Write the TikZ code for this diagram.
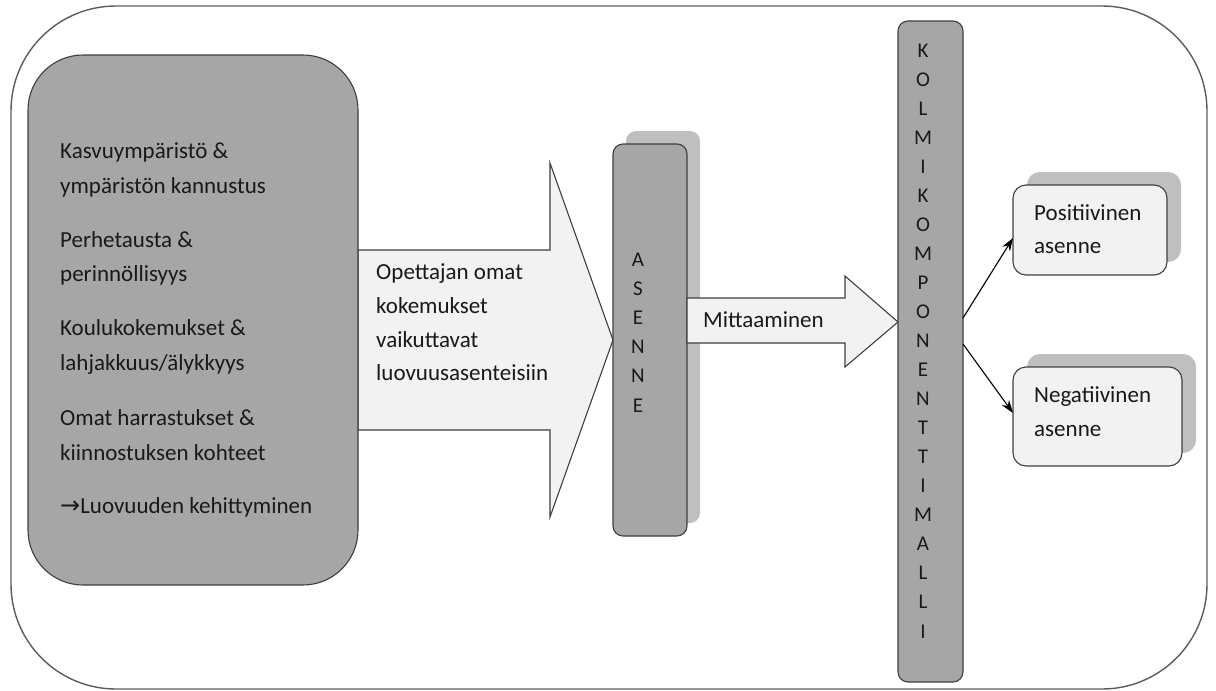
\documentclass[tikz,border=0pt]{standalone}
\usepackage{fontspec}
\setmainfont{Carlito}
\newfontfamily\arrowfont{DejaVu Sans}
\usetikzlibrary{arrows.meta}
\definecolor{boxgray}{HTML}{A6A6A6}
\definecolor{shadowgray}{HTML}{BFBFBF}
\definecolor{lightfill}{HTML}{F2F2F2}
\definecolor{edge}{HTML}{3F3F3F}
\tikzset{
  frame/.style={draw=edge!85, line width=1.4, rounded corners=105},
  greybox/.style={draw=edge, fill=boxgray, line width=1.1, inner sep=0},
  lightbox/.style={draw=edge, fill=lightfill, line width=1.1, inner sep=0, rounded corners=13},
  shadowbox/.style={fill=shadowgray, inner sep=0},
  fatarrow/.style={draw=edge, fill=lightfill, line width=1.1, line join=miter},
  txt/.style={anchor=base west, inner sep=0, font=\fontsize{23}{23}\selectfont, text=black!90},
  letter/.style={anchor=base, inner sep=0, font=\fontsize{21}{21}\selectfont, text=black!90},
  link/.style={draw=black, line width=1.1, -{Stealth[length=13,width=9]}}
}
\begin{document}
\begin{tikzpicture}[x=1pt,y=-1pt]
\useasboundingbox (0,0) rectangle (1216,691);

% outer frame
\draw[frame] (11,6) rectangle (1207,689);

% wide arrow from the background box to ASENNE
\draw[fatarrow] (358,250) -- (550,250) -- (550,163) -- (613,340) -- (550,517) -- (550,430) -- (358,430) -- cycle;

% background factors
\node[greybox, rounded corners=55, minimum width=330, minimum height=530] (factors) at (193,320) {};
\node[txt] (f1) at (60,158) {Kasvuympäristö \&};
\node[txt] (f2) at (60,193) {ympäristön kannustus};
\node[txt] (f3) at (60,247) {Perhetausta \&};
\node[txt] (f4) at (60,281) {perinnöllisyys};
\node[txt] (f5) at (60,335) {Koulukokemukset \&};
\node[txt] (f6) at (60,370) {lahjakkuus/älykkyys};
\node[txt] (f7) at (60,425) {Omat harrastukset \&};
\node[txt] (f8) at (60,460) {kiinnostuksen kohteet};
\node[txt] (f9) at (60,513) {{\arrowfont\fontsize{24}{24}\selectfont →}Luovuuden kehittyminen};

% text inside the wide arrow
\node[txt] (o1) at (376,279) {Opettajan omat};
\node[txt] (o2) at (376,313) {kokemukset};
\node[txt] (o3) at (376,347) {vaikuttavat};
\node[txt] (o4) at (376,380) {luovuusasenteisiin};

% ASENNE bar with its shadow
\node[shadowbox, rounded corners=10, minimum width=74, minimum height=392] (asenneshadow) at (663,327) {};
\node[greybox, rounded corners=10, minimum width=74, minimum height=392] (asenne) at (650,340) {};
\foreach \c [count=\i] in {A,S,E,N,N,E}
  \node[letter] (as\i) at (638,{266+29.2*(\i-1)}) {\c};

% measuring arrow
\draw[fatarrow] (687,298) -- (845,298) -- (845,276) -- (898,322) -- (845,367) -- (845,343) -- (687,343) -- cycle;
\node[txt] (mitta) at (703,327) {Mittaaminen};

% three-component model bar
\node[greybox, rounded corners=10, minimum width=65, minimum height=661] (kolmi) at (930.5,351.5) {};
\foreach \c [count=\i] in {K,O,L,M,I,K,O,M,P,O,N,E,N,T,T,I,M,A,L,L,I}
  \node[letter] (km\i) at (923,{57+29.05*(\i-1)}) {\c};

% outcome boxes with shadows
\node[shadowbox, rounded corners=13, minimum width=154, minimum height=90] (posshadow) at (1104,217) {};
\node[lightbox, minimum width=154, minimum height=90] (pos) at (1090,230) {};
\node[txt] (p1) at (1034,220) {Positiivinen};
\node[txt] (p2) at (1034,253) {asenne};

\node[shadowbox, rounded corners=13, minimum width=169, minimum height=99] (negshadow) at (1111.5,403.5) {};
\node[lightbox, minimum width=169, minimum height=99] (neg) at (1097.5,416.5) {};
\node[txt] (n1) at (1034,402) {Negatiivinen};
\node[txt] (n2) at (1034,436) {asenne};

% connectors from the model to the outcomes
\coordinate (kpos) at (963,318);
\coordinate (kneg) at (963,344);
\coordinate (posin) at (1013,238);
\coordinate (negin) at (1013,413);
\draw[link] (kpos) -- (posin);
\draw[link] (kneg) -- (negin);
\end{tikzpicture}
\end{document}
